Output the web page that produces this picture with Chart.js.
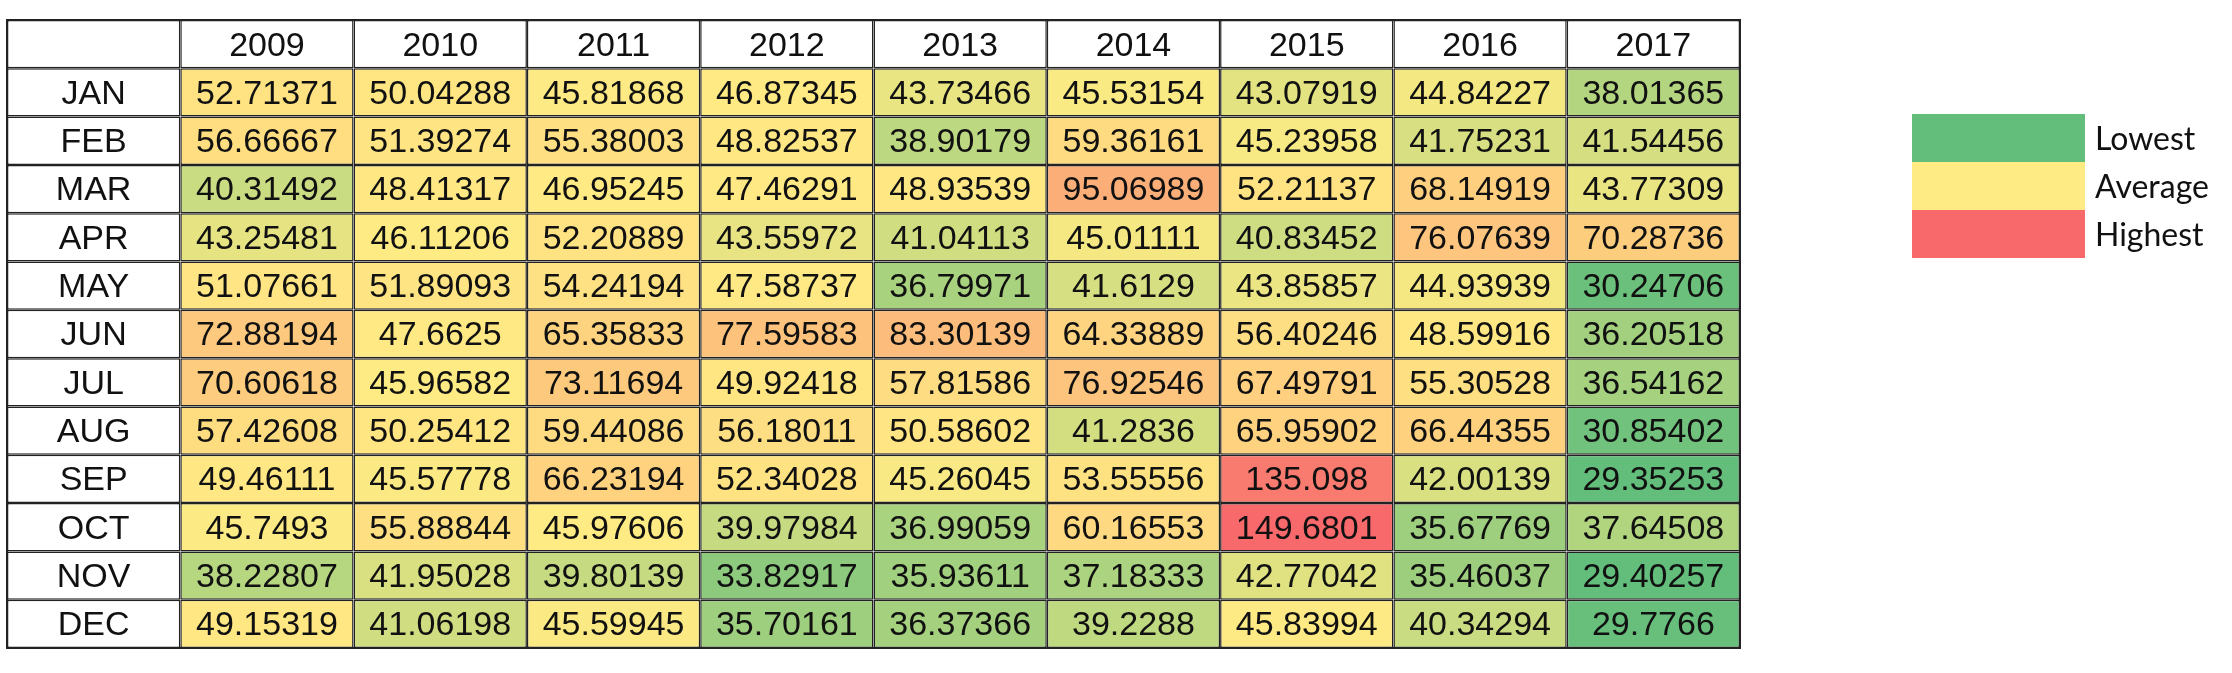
<!DOCTYPE html>
<html>
<head>
<meta charset="utf-8">
<script src="https://cdn.jsdelivr.net/npm/chart.js@4.4.1/dist/chart.umd.min.js"></script>
<style>
  html, body { margin: 0; padding: 0; background: #fff; }
  #wrap { width: 2232px; height: 673px; }
</style>
</head>
<body>
<div id="wrap"><canvas id="heatChart" width="2232" height="673"></canvas></div>
<script>
const years = [2009, 2010, 2011, 2012, 2013, 2014, 2015, 2016, 2017];
const months = ["JAN", "FEB", "MAR", "APR", "MAY", "JUN", "JUL", "AUG", "SEP", "OCT", "NOV", "DEC"];

// one array per month, one value per year
const JAN = [52.71371, 50.04288, 45.81868, 46.87345, 43.73466, 45.53154, 43.07919, 44.84227, 38.01365];
const FEB = [56.66667, 51.39274, 55.38003, 48.82537, 38.90179, 59.36161, 45.23958, 41.75231, 41.54456];
const MAR = [40.31492, 48.41317, 46.95245, 47.46291, 48.93539, 95.06989, 52.21137, 68.14919, 43.77309];
const APR = [43.25481, 46.11206, 52.20889, 43.55972, 41.04113, 45.01111, 40.83452, 76.07639, 70.28736];
const MAY = [51.07661, 51.89093, 54.24194, 47.58737, 36.79971, 41.6129, 43.85857, 44.93939, 30.24706];
const JUN = [72.88194, 47.6625, 65.35833, 77.59583, 83.30139, 64.33889, 56.40246, 48.59916, 36.20518];
const JUL = [70.60618, 45.96582, 73.11694, 49.92418, 57.81586, 76.92546, 67.49791, 55.30528, 36.54162];
const AUG = [57.42608, 50.25412, 59.44086, 56.18011, 50.58602, 41.2836, 65.95902, 66.44355, 30.85402];
const SEP = [49.46111, 45.57778, 66.23194, 52.34028, 45.26045, 53.55556, 135.098, 42.00139, 29.35253];
const OCT = [45.7493, 55.88844, 45.97606, 39.97984, 36.99059, 60.16553, 149.6801, 35.67769, 37.64508];
const NOV = [38.22807, 41.95028, 39.80139, 33.82917, 35.93611, 37.18333, 42.77042, 35.46037, 29.40257];
const DEC = [49.15319, 41.06198, 45.59945, 35.70161, 36.37366, 39.2288, 45.83994, 40.34294, 29.7766];

const rows = [JAN, FEB, MAR, APR, MAY, JUN, JUL, AUG, SEP, OCT, NOV, DEC];
const legendLabels = ["Lowest", "Average", "Highest"];

// Excel style 3-colour scale: min -> green, 50th percentile -> yellow, max -> red
const LOW = [99, 190, 123];
const MID = [255, 235, 132];
const HIGH = [248, 105, 107];

const sorted = rows.flat().sort((a, b) => a - b);
function percentile(p) {
  const idx = (sorted.length - 1) * p;
  const lo = Math.floor(idx);
  const hi = Math.ceil(idx);
  return sorted[lo] + (sorted[hi] - sorted[lo]) * (idx - lo);
}
const vMin = sorted[0];
const vMid = percentile(0.5);
const vMax = sorted[sorted.length - 1];

function mix(a, b, t) {
  return "rgb(" + a.map((c, i) => Math.round(c + (b[i] - c) * t)).join(",") + ")";
}
function cellColor(v) {
  if (v <= vMid) return mix(LOW, MID, (v - vMin) / (vMid - vMin));
  return mix(MID, HIGH, (v - vMid) / (vMax - vMid));
}

const colLabels = [""].concat(years.map(String));

// header row first, then a row per month; each cell is a floating bar [row, row + 1]
const datasets = [{
  data: colLabels.map(() => [0, 1]),
  texts: colLabels,
  backgroundColor: "#ffffff",
}];
rows.forEach((vals, r) => {
  datasets.push({
    data: colLabels.map(() => [r + 1, r + 2]),
    texts: [months[r]].concat(vals.map(String)),
    backgroundColor: ["#ffffff"].concat(vals.map(cellColor)),
  });
});

const cellText = {
  id: "cellText",
  afterDatasetsDraw(chart) {
    const ctx = chart.ctx;
    ctx.save();
    ctx.font = "34px 'Liberation Sans', Arial, sans-serif";
    ctx.fillStyle = "#111";
    ctx.textAlign = "center";
    ctx.textBaseline = "middle";
    chart.data.datasets.forEach((ds, i) => {
      chart.getDatasetMeta(i).data.forEach((bar, j) => {
        const { x, y, base } = bar.getProps(["x", "y", "base"], true);
        ctx.fillText(ds.texts[j], x, (y + base) / 2 + 2);
      });
    });
    // heavier outline round the whole table
    const a = chart.chartArea;
    ctx.strokeStyle = "#222";
    ctx.lineWidth = 2;
    ctx.strokeRect(a.left, a.top, a.right - a.left, a.bottom - a.top);
    ctx.restore();
  },
};

const scaleLegend = {
  id: "scaleLegend",
  afterDraw(chart) {
    const ctx = chart.ctx;
    const colors = [LOW, MID, HIGH];
    ctx.save();
    ctx.font = "32px Lato, sans-serif";
    ctx.fillStyle = "#111";
    ctx.textAlign = "left";
    ctx.textBaseline = "middle";
    legendLabels.forEach((label, i) => {
      const top = 114 + i * 48;
      ctx.fillStyle = "rgb(" + colors[i].join(",") + ")";
      ctx.fillRect(1912, top, 173, 48);
      ctx.fillStyle = "#111";
      ctx.fillText(label, 2095, top + 26);
    });
    ctx.restore();
  },
};

new Chart(document.getElementById("heatChart"), {
  type: "bar",
  data: { labels: colLabels, datasets: datasets },
  options: {
    responsive: false,
    animation: false,
    devicePixelRatio: 1,
    layout: { padding: { left: 7, top: 20, right: 492, bottom: 25 } },
    datasets: {
      bar: {
        grouped: false,
        categoryPercentage: 1,
        barPercentage: 1,
        borderColor: "#222",
        borderWidth: 1.5,
        borderSkipped: false,
        inflateAmount: 0,
      },
    },
    plugins: {
      legend: { display: false },
      tooltip: { enabled: false },
    },
    scales: {
      x: { type: "category", display: false },
      y: { type: "linear", min: 0, max: 13, reverse: true, display: false },
    },
  },
  plugins: [cellText, scaleLegend],
});
</script>
</body>
</html>
